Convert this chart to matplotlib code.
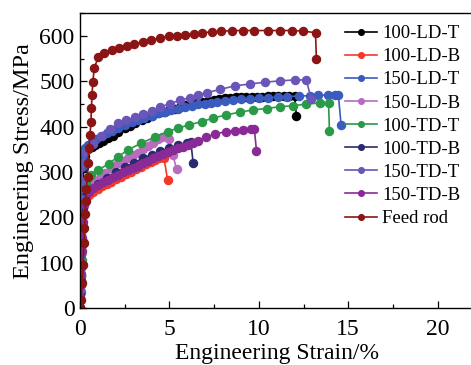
import matplotlib
matplotlib.use("Agg")
import matplotlib.pyplot as plt
from matplotlib.ticker import MultipleLocator

plt.rcParams['font.family'] = ['Liberation Serif', 'DejaVu Serif']

labels = ["100-LD-T", "100-LD-B", "150-LD-T", "150-LD-B", "100-TD-T",
          "100-TD-B", "150-TD-T", "150-TD-B", "Feed rod"]
colors = ["#000000", "#f23a2a", "#3b5bbf", "#b86cbf", "#2a9a48",
          "#2b2a6e", "#6a55b8", "#8a2a96", "#8b1414"]

x_100LDT = [0.00,0.02,0.04,0.06,0.08,0.10,0.12,0.14,0.17,0.22,0.30,0.47,0.65,0.84,1.05,1.30,1.58,1.85,2.15,2.50,2.80,3.10,3.45,3.75,4.05,4.38,4.70,5.00,5.30,5.60,5.90,6.24,6.55,6.85,7.17,7.50,7.80,8.10,8.40,8.70,9.00,9.30,9.60,9.90,10.20,10.50,10.80,11.10,11.40,11.70,12.00,12.10]
y_100LDT = [0,35,70,105,140,175,210,245,280,310,335,350,355,360,365,369,374,380,388,396,402,408,415,419,424,429,433,437,440,444,448,451,453,455,457,459,461,463,464,465,465,466,466,466,466,467,467,467,467,467,467,424]

x_100LDB = [0.00,0.02,0.04,0.06,0.08,0.10,0.12,0.15,0.20,0.30,0.50,0.75,1.00,1.25,1.50,1.75,2.00,2.31,2.60,2.87,3.15,3.43,3.70,3.95,4.20,4.40,4.70,4.90]
y_100LDB = [0,30,60,90,120,150,180,205,228,240,249,256,262,268,273,279,284,290,296,301,307,312,317,322,327,330,330,282]

x_150LDT = [0.00,0.01,0.02,0.03,0.04,0.05,0.06,0.08,0.10,0.15,0.28,0.45,0.65,0.92,1.21,1.50,1.77,2.10,2.51,2.90,3.26,3.60,4.00,4.40,4.75,5.10,5.49,5.85,6.24,6.60,6.98,7.35,7.64,8.10,8.57,9.00,9.50,10.02,10.50,11.08,11.60,12.25,12.85,13.30,13.87,14.25,14.45,14.60]
y_150LDT = [0,40,80,120,160,200,240,280,310,335,352,360,367,373,379,385,390,397,404,410,415,420,424,429,433,437,440,443,446,449,451,453,455,457,459,460,461,463,464,465,466,468,468,469,470,470,470,404]

x_150LDB = [0.00,0.02,0.04,0.06,0.08,0.10,0.13,0.18,0.30,0.55,0.80,1.10,1.40,1.75,2.12,2.40,2.68,2.96,3.24,3.54,3.80,4.10,4.38,4.60,5.00,5.20,5.40]
y_150LDB = [0,30,60,90,120,150,185,220,250,265,277,287,297,308,319,325,331,337,342,351,357,364,372,377,372,337,306]

x_100TDT = [0.00,0.03,0.06,0.09,0.12,0.15,0.18,0.22,0.35,0.60,1.00,1.60,2.10,2.70,3.40,4.17,4.90,5.50,6.10,6.80,7.45,8.19,8.94,9.68,10.43,11.17,11.92,12.66,13.40,13.90,13.95]
y_100TDT = [0,35,70,105,140,175,210,245,275,293,304,318,333,349,363,377,389,397,404,411,419,426,432,437,440,444,446,450,452,452,390]

x_100TDB = [0.00,0.02,0.04,0.06,0.08,0.10,0.13,0.18,0.30,0.50,1.00,1.50,2.00,2.50,3.00,3.50,4.00,4.50,5.00,5.50,6.00,6.20,6.33]
y_100TDB = [0,30,60,90,120,150,185,220,248,260,274,287,299,310,320,330,338,346,353,359,364,366,319]

x_150TDT = [0.00,0.01,0.02,0.03,0.04,0.05,0.07,0.10,0.15,0.30,0.70,1.20,1.65,2.14,2.60,3.07,3.55,4.00,4.50,5.03,5.60,6.15,6.60,7.10,7.82,8.66,9.50,10.34,11.17,12.00,12.66,12.92]
y_150TDT = [0,40,80,120,160,200,240,280,320,345,362,380,395,407,414,421,428,435,443,451,458,464,470,475,482,490,494,498,501,503,503,462]

x_150TDB = [0.00,0.02,0.04,0.06,0.08,0.10,0.12,0.16,0.25,0.50,0.75,1.00,1.28,1.56,1.84,2.12,2.40,2.68,2.96,3.24,3.52,3.80,4.08,4.36,4.64,4.92,5.20,5.47,5.75,6.03,6.30,6.60,7.06,7.54,8.19,8.66,9.12,9.59,9.75,9.87]
y_150TDB = [0,25,50,75,100,125,155,190,230,255,264,271,277,282,288,293,299,304,309,314,320,325,330,335,340,345,349,352,356,360,364,369,377,384,389,391,393,394,394,347]

x_feed = [0.00,0.06,0.12,0.17,0.22,0.25,0.28,0.31,0.34,0.42,0.45,0.50,0.56,0.61,0.64,0.67,0.72,0.80,1.02,1.34,1.77,2.20,2.61,3.04,3.50,3.97,4.47,4.95,5.42,5.89,6.37,6.85,7.36,7.86,8.49,9.11,9.72,10.52,11.17,11.88,12.48,13.17,13.22]
y_feed = [0,18,55,95,143,176,207,236,262,289,320,353,382,410,441,470,499,530,553,562,568,573,578,582,587,591,595,599,601,603,605,607,609,610,612,612,612,612,612,612,611,607,549]

xs = [x_100LDT, x_100LDB, x_150LDT, x_150LDB, x_100TDT, x_100TDB, x_150TDT, x_150TDB, x_feed]
ys = [y_100LDT, y_100LDB, y_150LDT, y_150LDB, y_100TDT, y_100TDB, y_150TDT, y_150TDB, y_feed]

fig = plt.figure(figsize=(4.71, 3.65), dpi=100)
ax = fig.add_axes([80/471, 57/365, 393.4/471, 294.7/365])

for x, y, c, lab in zip(xs, ys, colors, labels):
    ax.plot(x, y, '-o', color=c, lw=1.2, ms=5.8, mec=c, label=lab)

ax.set_xlim(0, 22)
ax.set_ylim(0, 650)
ax.xaxis.set_major_locator(MultipleLocator(5))
ax.xaxis.set_minor_locator(MultipleLocator(2.5))
ax.yaxis.set_major_locator(MultipleLocator(100))
ax.yaxis.set_minor_locator(MultipleLocator(50))
ax.tick_params(which='both', direction='in', top=False, right=False, labelsize=17, width=0.9)
ax.tick_params(which='major', length=5)
ax.tick_params(which='minor', length=3)
ax.tick_params(axis='x', which='major', pad=8)
ax.tick_params(axis='y', which='major', pad=4)
for s in ax.spines.values():
    s.set_linewidth(1.0)

ax.set_xlabel("Engineering Strain/%", fontsize=17, labelpad=2)
ax.set_ylabel("Engineering Stress/MPa", fontsize=17.5, labelpad=4)

leg = ax.legend(loc='upper left', bbox_to_anchor=(345/471, 1 - 25/365), bbox_transform=fig.transFigure,
                frameon=False, fontsize=13.5, handlelength=1.7, handletextpad=0.3,
                labelspacing=0.32, borderpad=0, borderaxespad=0, markerscale=0.7)

fig.savefig("out.png", dpi=100)
